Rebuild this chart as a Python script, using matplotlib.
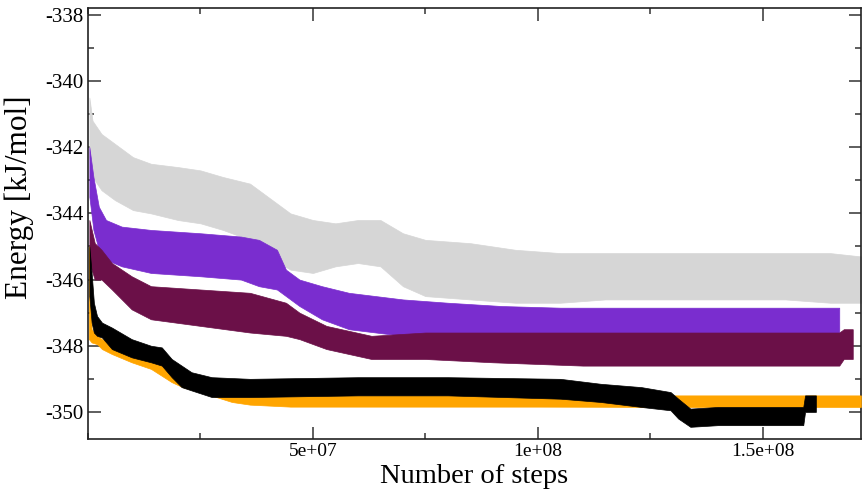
import matplotlib
matplotlib.use('Agg')
import matplotlib.pyplot as plt
from matplotlib.ticker import MultipleLocator

plt.rcParams['font.family'] = 'Liberation Serif'

# envelopes: steps (millions), upper edge, lower edge
gray_x = [0.3, 1, 3, 6, 10, 14, 20, 25, 30, 36, 40, 45, 50, 55, 60, 65, 70, 75, 85, 95, 105, 115, 125, 135, 145, 155, 165, 171.8]
gray_hi = [-340.5, -341.2, -341.6, -341.9, -342.3, -342.5, -342.6, -342.7, -342.9, -343.1, -343.5, -344.0, -344.2, -344.3,
           -344.2, -344.2, -344.6, -344.8, -344.9, -345.1, -345.2, -345.2, -345.2, -345.2, -345.2, -345.2, -345.2, -345.3]
gray_lo = [-342.3, -342.9, -343.3, -343.6, -343.9, -344.0, -344.2, -344.3, -344.5, -344.8, -345.3, -345.7, -345.8, -345.6,
           -345.5, -345.6, -346.2, -346.5, -346.6, -346.7, -346.7, -346.6, -346.6, -346.6, -346.6, -346.6, -346.7, -346.7]

purple_x = [0.3, 1.2, 2.4, 4, 7.5, 14, 25, 34, 38, 42, 44, 47, 52, 58, 70, 80, 92, 105, 130, 150, 167]
purple_hi = [-342.0, -342.9, -343.8, -344.2, -344.4, -344.5, -344.6, -344.7, -344.8, -345.1, -345.7, -346.0, -346.2,
             -346.4, -346.6, -346.7, -346.8, -346.85, -346.85, -346.85, -346.85]
purple_lo = [-343.5, -344.5, -345.1, -345.4, -345.6, -345.8, -345.9, -346.0, -346.2, -346.3, -346.5, -346.8, -347.2,
             -347.5, -347.7, -347.8, -347.8, -347.9, -347.9, -347.9, -347.9]

maroon_x = [0.3, 1.5, 3, 5.3, 9.7, 14, 25, 36, 44, 47, 53, 63, 75, 90, 110, 150, 167, 168, 170]
maroon_hi = [-344.2, -344.9, -345.1, -345.5, -345.9, -346.2, -346.3, -346.4, -346.7, -347.0, -347.4, -347.7, -347.6,
             -347.6, -347.6, -347.6, -347.6, -347.5, -347.5]
maroon_lo = [-345.5, -346.0, -346.0, -346.3, -346.9, -347.2, -347.4, -347.6, -347.7, -347.8, -348.1, -348.4, -348.4,
             -348.5, -348.6, -348.6, -348.6, -348.4, -348.4]

black_x = [0.3, 0.8, 1.3, 2, 3.1, 5.3, 9.7, 14, 16.4, 18.6, 20.8, 23, 27.5, 36, 60, 80, 105, 114, 123, 129.5, 131.2,
           133.9, 140, 150, 159, 159.4, 161.8]
black_hi = [-345.0, -345.8, -346.7, -347.1, -347.3, -347.45, -347.8, -348.0, -348.05, -348.4, -348.6, -348.8, -348.95,
            -349.0, -348.95, -348.95, -349.0, -349.15, -349.25, -349.4, -349.6, -349.9, -349.85, -349.85, -349.85,
            -349.5, -349.5]
black_lo = [-346.5, -347.3, -347.6, -347.7, -347.75, -348.1, -348.35, -348.5, -348.6, -348.95, -349.25, -349.35, -349.55,
            -349.55, -349.5, -349.5, -349.6, -349.7, -349.85, -349.95, -350.2, -350.45, -350.4, -350.4, -350.4,
            -350.0, -350.0]

orange_x = [0.2, 0.8, 2, 3.1, 5.3, 9.7, 14, 18.6, 21, 25, 32, 36, 45, 60, 100, 131, 171.8]
orange_hi = [-345.0, -347.5, -347.7, -347.8, -347.95, -348.2, -348.4, -348.7, -348.9, -349.05, -349.3, -349.45, -349.5,
             -349.5, -349.5, -349.5, -349.5]
orange_lo = [-347.8, -347.9, -347.95, -348.1, -348.25, -348.5, -348.7, -349.1, -349.25, -349.4, -349.7, -349.78, -349.84,
             -349.84, -349.84, -349.85, -349.85]

series = [
    (gray_x, gray_hi, gray_lo, '#d6d6d6'),
    (purple_x, purple_hi, purple_lo, '#7a2dcf'),
    (maroon_x, maroon_hi, maroon_lo, '#6b1048'),
    (orange_x, orange_hi, orange_lo, '#ffa500'),
    (black_x, black_hi, black_lo, '#000000'),
]

fig = plt.figure(figsize=(8.63, 4.95), dpi=100)
ax = fig.add_axes([0.102, 0.113, 0.8955, 0.871])

for i, (xs, hi, lo, col) in enumerate(series):
    xs = [v * 1e6 for v in xs]
    ax.fill_between(xs, lo, hi, color=col, linewidth=0.5, edgecolor=col, zorder=2 + i)

ax.set_xlim(0, 1.718e8)
ax.set_ylim(-350.82, -337.79)

ax.xaxis.set_minor_locator(MultipleLocator(2.5e7))
ax.set_xticks([5e7, 1e8, 1.5e8])
ax.set_xticklabels(['5e+07', '1e+08', '1.5e+08'])
ax.yaxis.set_minor_locator(MultipleLocator(1))
ax.set_yticks([-350, -348, -346, -344, -342, -340, -338])
ax.set_yticklabels(['-350', '-348', '-346', '-344', '-342', '-340', '-338'])

ax.tick_params(which='both', direction='in', top=True, right=True, labelsize=15, color='#333333')
ax.tick_params(axis='x', which='major', pad=3, labelsize=14)
ax.tick_params(which='major', length=9, width=1.1)
ax.tick_params(which='minor', length=4.5, width=1.1)
for s in ax.spines.values():
    s.set_linewidth(1.2)
    s.set_color('#222222')

ax.set_xlabel('Number of steps', fontsize=20.5)
ax.xaxis.set_label_coords(0.5, -0.058)
ax.xaxis.label.set_verticalalignment('top')
ax.set_ylabel('Energy [kJ/mol]', fontsize=22.5)
ax.yaxis.set_label_coords(-0.07, 0.56)

fig.savefig('out.png', dpi=100)
